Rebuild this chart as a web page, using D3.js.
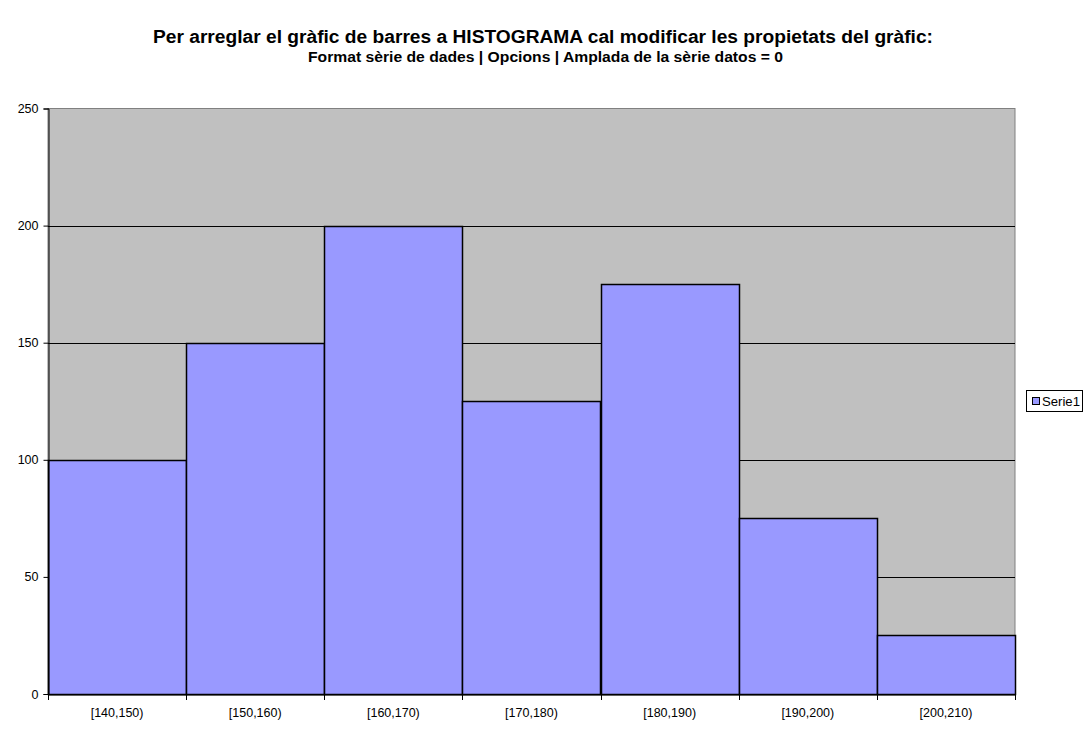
<!DOCTYPE html>
<html><head><meta charset="utf-8">
<script src="https://cdn.jsdelivr.net/npm/d3@7"></script>
<style>body{margin:0;background:#fff;} text{font-family:Arial,"Liberation Sans",sans-serif;}</style>
</head><body><svg id="c" width="1092" height="740"></svg>
<script>
const categories = ["[140,150)","[150,160)","[160,170)","[170,180)","[180,190)","[190,200)","[200,210)"];
const values = [100,150,200,125,175,75,25];
const yTicks = [0,50,100,150,200,250];
const seriesName = "Serie1";
const titleText = "Per arreglar el gràfic de barres a HISTOGRAMA cal modificar les propietats del gràfic:";
const subtitleText = "Format sèrie de dades | Opcions | Amplada de la sèrie datos = 0";

const svg = d3.select("#c");
const L = 48, R = 1015, T = 108.5, B = 694;
const x = d3.scaleBand().domain(categories).range([L, R]).padding(0);
const y = d3.scaleLinear().domain([0, 250]).range([B, T]);

svg.append("rect").attr("x", L).attr("y", T).attr("width", R - L).attr("height", B - T)
  .attr("fill", "#C0C0C0").attr("stroke", "#808080").attr("stroke-width", 1);

svg.append("g").selectAll("line").data(yTicks.filter(d => d > 0 && d < 250)).join("line")
  .attr("x1", L).attr("x2", R).attr("y1", d => Math.round(y(d)) + 0.5).attr("y2", d => Math.round(y(d)) + 0.5)
  .attr("stroke", "#000").attr("stroke-width", 1);

svg.append("g").selectAll("rect").data(values).join("rect")
  .attr("x", (d, i) => Math.round(x(categories[i])) + 0.5)
  .attr("y", d => Math.round(y(d)) + 0.5)
  .attr("width", () => Math.round(x.bandwidth()))
  .attr("height", d => Math.round(B) - Math.round(y(d)))
  .attr("fill", "#9999FF").attr("stroke", "#000").attr("stroke-width", 1.5);

// y axis
const ya = svg.append("g").attr("transform", `translate(${L + 0.5},0)`)
  .call(d3.axisLeft(y).tickValues(yTicks).tickSize(5).tickPadding(5));
ya.select(".domain").attr("stroke", "#000");
ya.selectAll("text").attr("font-size", 12.5).attr("fill", "#000");

// x axis
const xa = svg.append("g").attr("transform", `translate(0,${B + 0.5})`)
  .call(d3.axisBottom(x).tickSize(0).tickPadding(14));
xa.select(".domain").attr("stroke", "#000");
xa.selectAll("text").attr("font-size", 12.5).attr("fill", "#000");
const bounds = categories.map(c => x(c)).concat([R]);
svg.append("g").selectAll("line").data(bounds).join("line")
  .attr("x1", d => Math.round(d) + 0.5).attr("x2", d => Math.round(d) + 0.5)
  .attr("y1", B).attr("y2", B + 6).attr("stroke", "#000");

// title
svg.append("text").attr("x", 153).attr("y", 43)
  .attr("font-size", 18).attr("font-weight", "bold")
  .attr("textLength", 780).attr("lengthAdjust", "spacingAndGlyphs").text(titleText);
svg.append("text").attr("x", 308).attr("y", 62)
  .attr("font-size", 14).attr("font-weight", "bold")
  .attr("textLength", 475).attr("lengthAdjust", "spacingAndGlyphs").text(subtitleText);

// legend
const lg = svg.append("g");
lg.append("rect").attr("x", 1026.5).attr("y", 390.5).attr("width", 56).attr("height", 21)
  .attr("fill", "#fff").attr("stroke", "#000");
lg.append("rect").attr("x", 1032.5).attr("y", 397.5).attr("width", 7).attr("height", 7)
  .attr("fill", "#9999FF").attr("stroke", "#000");
lg.append("text").attr("x", 1042).attr("y", 405.5).attr("font-size", 12.5)
  .attr("textLength", 38).attr("lengthAdjust", "spacingAndGlyphs").text(seriesName);
</script></body></html>
